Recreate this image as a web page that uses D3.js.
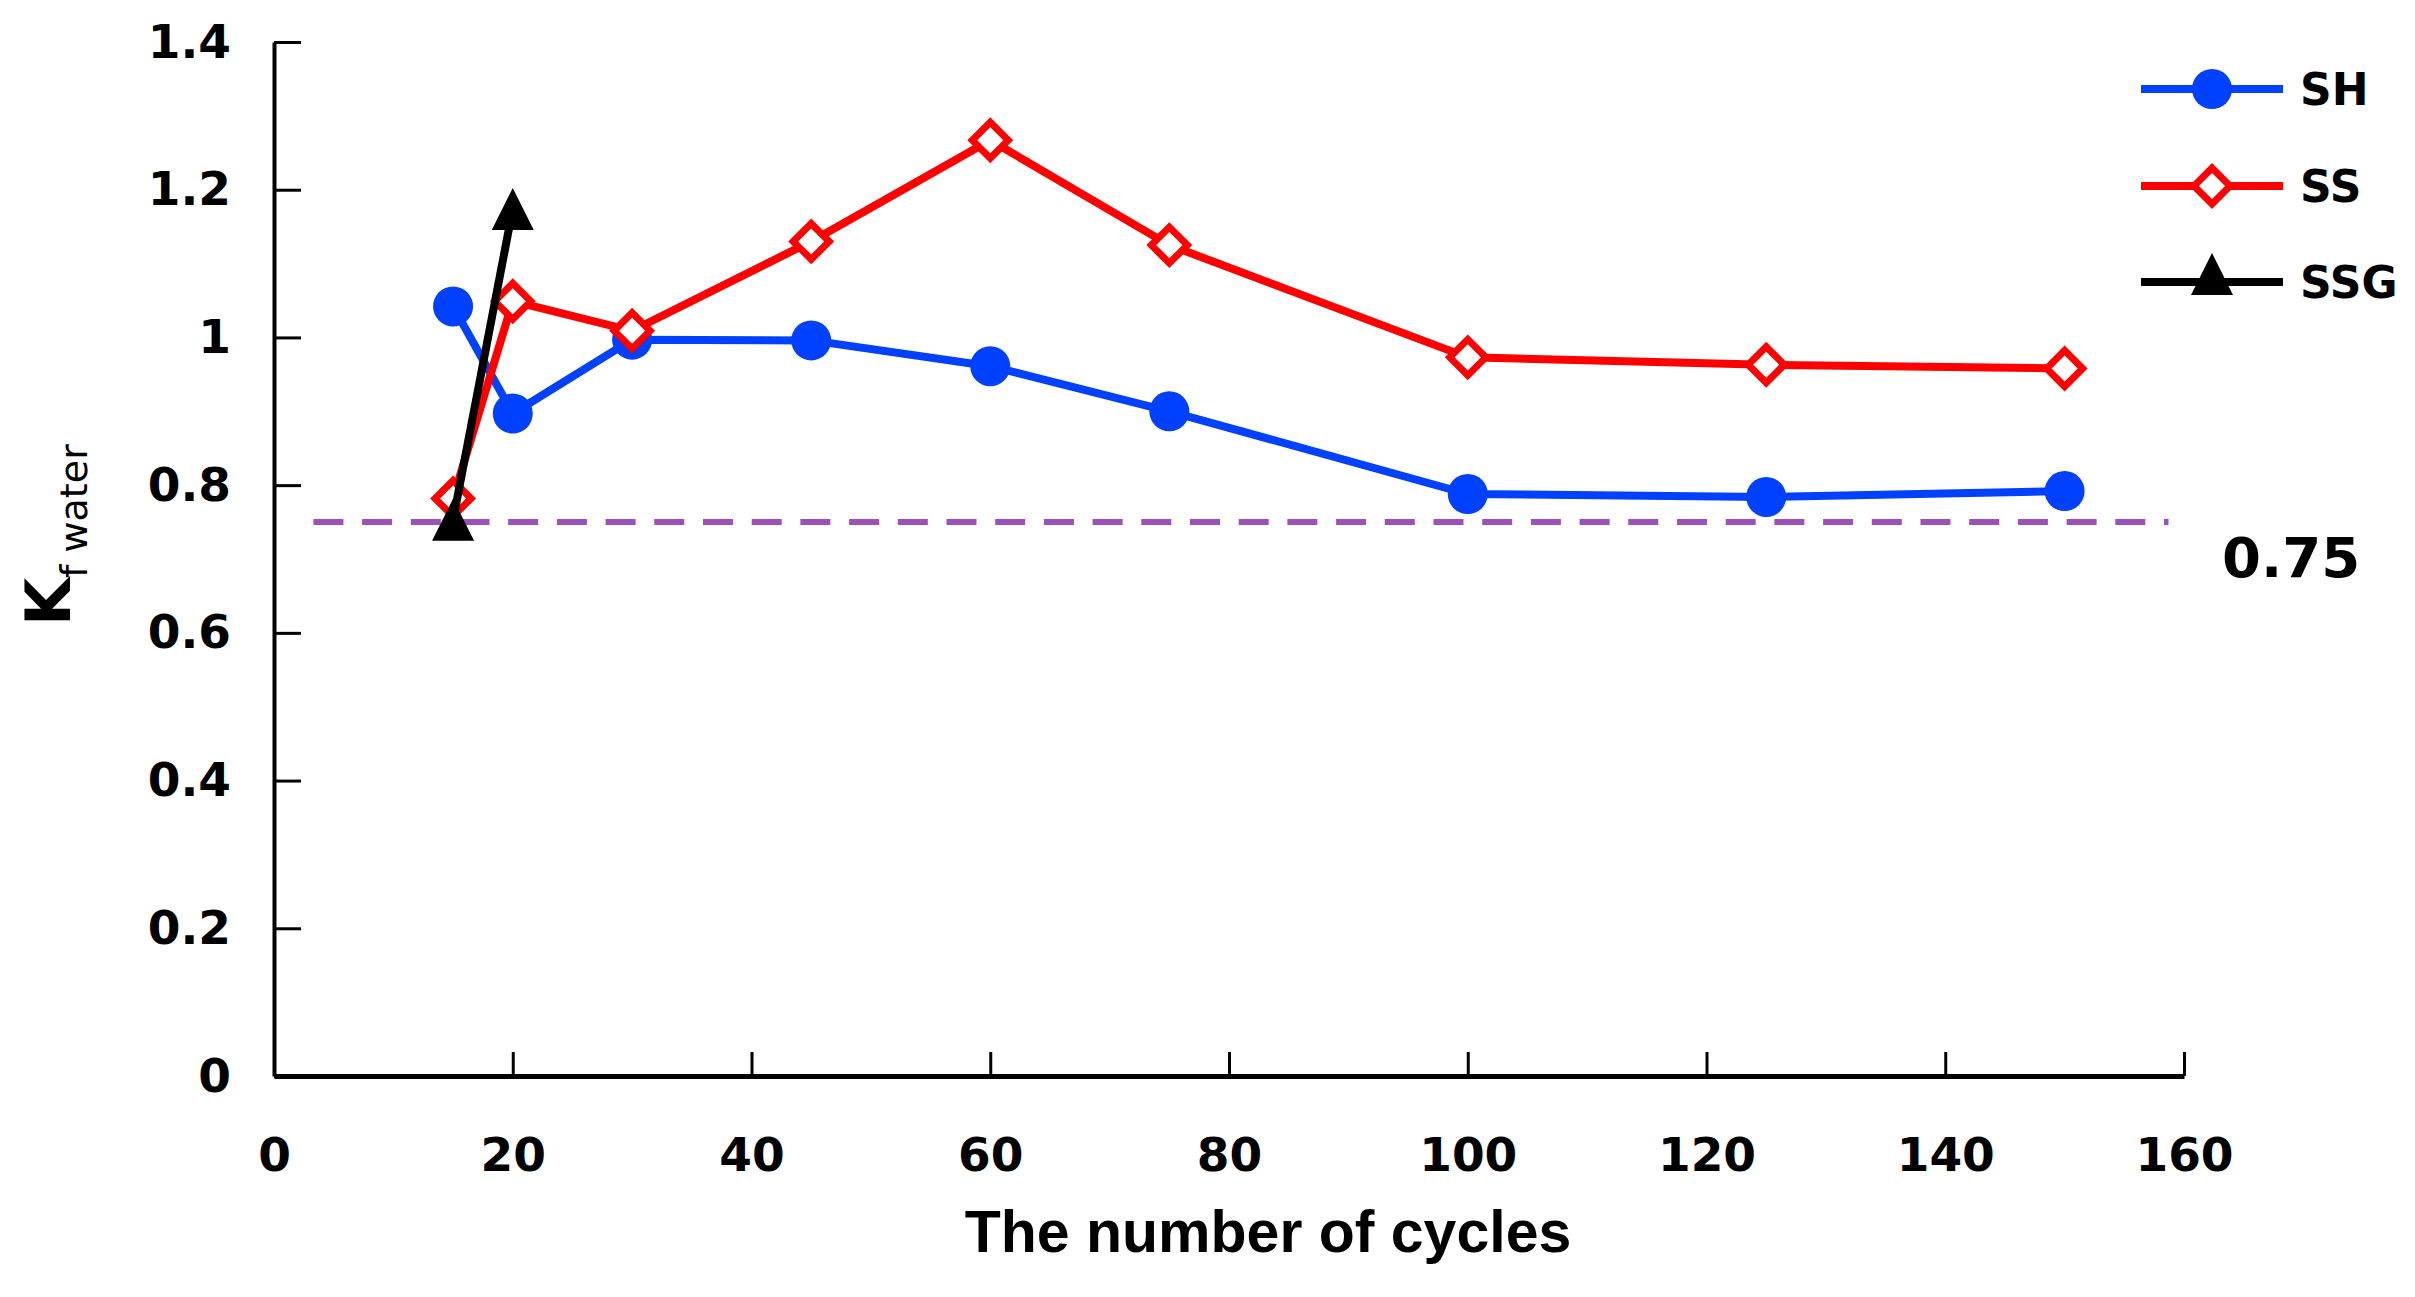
<!DOCTYPE html>
<html>
<head>
<meta charset="utf-8">
<script src="https://cdn.jsdelivr.net/npm/d3@7"></script>
<style>
  body { margin: 0; background: #fff; }
  text { font-family: "DejaVu Sans", Verdana, sans-serif; }
</style>
</head>
<body>
<div id="chart"></div>
<script>
var width = 2415,
    height = 1297;

// data
var cycles = [15, 20, 30, 45, 60, 75, 100, 125, 150];
var shValues = [1.042, 0.897, 0.997, 0.996, 0.961, 0.900, 0.788, 0.784, 0.792];
var ssValues = [0.782, 1.049, 1.009, 1.130, 1.267, 1.125, 0.973, 0.963, 0.958];
var ssgCycles = [15, 20];
var ssgValues = [0.753, 1.174];
var limitValue = 0.75;
var limitRange = [3.3, 158.7];
var xTicks = [0, 20, 40, 60, 80, 100, 120, 140, 160];
var yTicks = [0, 0.2, 0.4, 0.6, 0.8, 1, 1.2, 1.4];
var seriesNames = ["SH", "SS", "SSG"];

var x = d3.scaleLinear().domain([0, 160]).range([274, 2184]);
var y = d3.scaleLinear().domain([0, 1.4]).range([1076, 42]);

var svg = d3.select("#chart").append("svg")
    .attr("width", width)
    .attr("height", height);

// axes
var yAxis = svg.append("g")
    .attr("transform", "translate(" + x(0) + ",0)")
    .call(d3.axisLeft(y).tickValues(yTicks)
        .tickFormat(function(d) { return String(+d.toFixed(1)); })
        .tickSizeInner(-27).tickSizeOuter(0).tickPadding(43));

var xAxis = svg.append("g")
    .attr("transform", "translate(0," + y(0) + ")")
    .call(d3.axisBottom(x).tickValues(xTicks)
        .tickSizeInner(-24).tickSizeOuter(0).tickPadding(62));

yAxis.select(".domain").attr("stroke", "#000").attr("stroke-width", 4);
xAxis.select(".domain").attr("stroke", "#000").attr("stroke-width", 5);
svg.selectAll(".tick line").attr("stroke", "#000").attr("stroke-width", 3);
svg.selectAll(".tick text")
    .attr("fill", "#000")
    .style("font-family", "'DejaVu Sans', Verdana, sans-serif")
    .style("font-size", "47px")
    .style("font-weight", "bold");

// axis titles
svg.append("text")
    .attr("x", 1268)
    .attr("y", 1252)
    .attr("text-anchor", "middle")
    .style("font-family", "'Liberation Sans', Arial, sans-serif")
    .style("font-size", "59px")
    .style("font-weight", "bold")
    .text("The number of cycles");

var yTitle = svg.append("text")
    .attr("transform", "translate(70,626) rotate(-90)")
    .style("font-size", "62px")
    .style("font-weight", "bold");
yTitle.append("tspan").text("K");
yTitle.append("tspan")
    .attr("dy", 17)
    .style("font-size", "38px")
    .style("font-weight", "normal")
    .text("f water");

// limit line
svg.append("line")
    .attr("x1", x(limitRange[0])).attr("x2", x(limitRange[1]))
    .attr("y1", y(limitValue)).attr("y2", y(limitValue))
    .attr("stroke", "#9b51b8")
    .attr("stroke-width", 6)
    .attr("stroke-dasharray", "30 18.7");

svg.append("text")
    .attr("x", 2222)
    .attr("y", 577)
    .style("font-size", "56px")
    .style("font-weight", "bold")
    .text("0.75");

// markers
var diamond = "M0,-18L18,0L0,18L-18,0Z";
var triangle = "M0,-21L21,21L-21,21Z";

function drawMarker(g, kind, cx, cy) {
    if (kind == "SH") {
        g.append("circle").attr("cx", cx).attr("cy", cy).attr("r", 20)
            .attr("fill", "#0040ff");
    } else if (kind == "SS") {
        g.append("path").attr("d", diamond)
            .attr("transform", "translate(" + cx + "," + cy + ")")
            .attr("fill", "#fff").attr("stroke", "#ff0000").attr("stroke-width", 7);
    } else {
        g.append("path").attr("d", triangle)
            .attr("transform", "translate(" + cx + "," + cy + ")")
            .attr("fill", "#000");
    }
}

var colors = {SH: "#0040ff", SS: "#ff0000", SSG: "#000"};
var series = [
    {name: "SH", xs: cycles, ys: shValues},
    {name: "SS", xs: cycles, ys: ssValues},
    {name: "SSG", xs: ssgCycles, ys: ssgValues}
];

var line = d3.line()
    .x(function(d) { return x(d[0]); })
    .y(function(d) { return y(d[1]); });

series.forEach(function(s) {
    var pts = s.xs.map(function(c, i) { return [c, s.ys[i]]; });
    var g = svg.append("g");
    g.append("path")
        .attr("d", line(pts))
        .attr("fill", "none")
        .attr("stroke", colors[s.name])
        .attr("stroke-width", 8)
        .attr("stroke-linejoin", "round");
    pts.forEach(function(p) { drawMarker(g, s.name, x(p[0]), y(p[1])); });
});

// legend
var legendY = [89, 186, 282];
seriesNames.forEach(function(name, i) {
    var g = svg.append("g");
    g.append("line")
        .attr("x1", 2141).attr("x2", 2283)
        .attr("y1", legendY[i]).attr("y2", legendY[i])
        .attr("stroke", colors[name]).attr("stroke-width", 8);
    drawMarker(g, name, 2212, name == "SSG" ? legendY[i] - 8 : legendY[i]);
    g.append("text")
        .attr("x", 2300).attr("y", legendY[i])
        .attr("dy", "0.36em")
        .style("font-size", "44px")
        .style("font-weight", "bold")
        .text(name);
});
</script>
</body>
</html>
